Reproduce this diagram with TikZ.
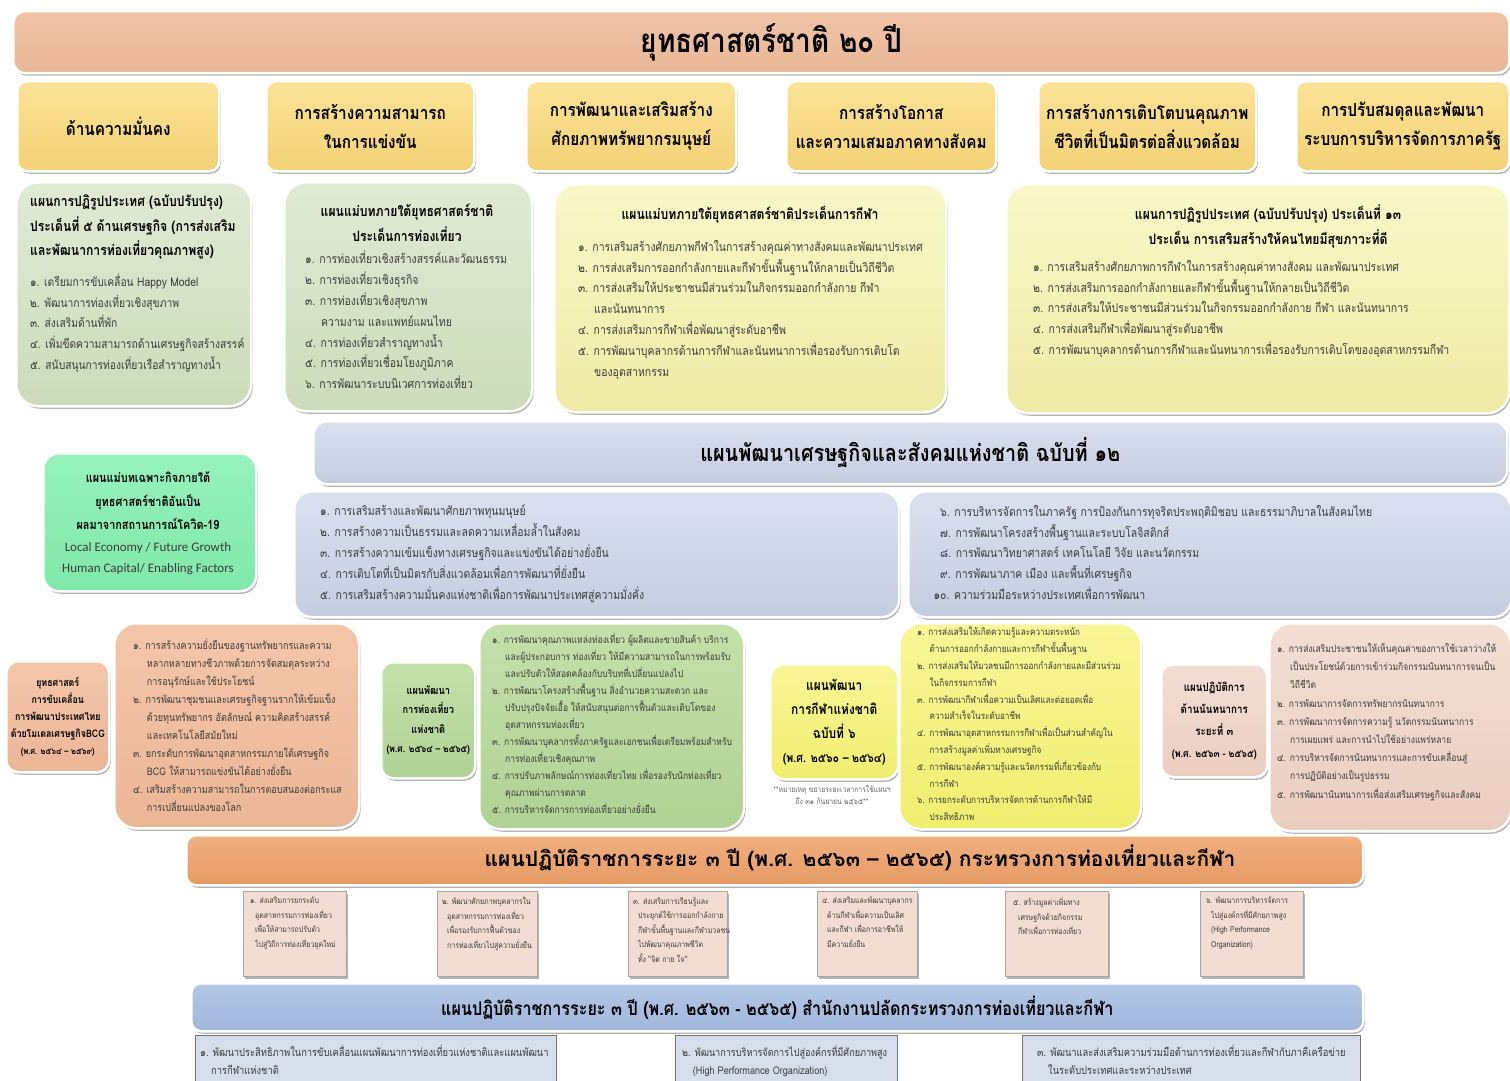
\documentclass[tikz,border=0pt]{standalone}
\usepackage{fontspec}
\setmainfont[Script=Thai]{Loma}
\newfontfamily\thc[Script=Thai,FakeStretch=0.85]{Loma}
\newfontfamily\thw[Script=Thai]{Loma}
\newfontfamily\calf{Carlito}
\usetikzlibrary{shadows}
\definecolor{peach}{RGB}{240,196,168}
\definecolor{peachd}{RGB}{232,182,150}
\definecolor{hdy}{RGB}{250,226,150}
\definecolor{hdyd}{RGB}{243,210,118}
\definecolor{sage}{RGB}{224,234,212}
\definecolor{saged}{RGB}{204,220,186}
\definecolor{ly}{RGB}{249,247,200}
\definecolor{lyd}{RGB}{238,235,165}
\definecolor{mint}{RGB}{150,242,188}
\definecolor{mintd}{RGB}{128,232,170}
\definecolor{bg}{RGB}{218,224,238}
\definecolor{bgd}{RGB}{196,205,224}
\definecolor{salm}{RGB}{244,198,170}
\definecolor{salmd}{RGB}{236,182,150}
\definecolor{gr}{RGB}{196,224,170}
\definecolor{grd}{RGB}{176,210,148}
\definecolor{byel}{RGB}{248,246,150}
\definecolor{byeld}{RGB}{240,238,110}
\definecolor{pink}{RGB}{243,222,212}
\definecolor{pinkd}{RGB}{234,206,192}
\definecolor{orng}{RGB}{240,176,128}
\definecolor{orngd}{RGB}{230,154,100}
\definecolor{sq}{RGB}{243,221,211}
\definecolor{bban}{RGB}{180,200,230}
\definecolor{bband}{RGB}{160,182,218}
\definecolor{bbox}{RGB}{214,222,235}
\definecolor{txtg}{RGB}{60,60,60}
\begin{document}
\begin{tikzpicture}[x=1pt,y=-1pt,
  shd/.style={drop shadow={shadow xshift=1.5pt,shadow yshift=-2.5pt,opacity=0.45,fill=black!65}},
  rbox/.style={shd,draw=white,line width=2.5pt,rounded corners=#1,anchor=north west,inner sep=0pt},
  rbox/.default=22pt,
  lst/.style={anchor=north west,inner sep=0pt,align=left,text=txtg,font=\thc\fontsize{12.3}{20.8}\selectfont},
  slst/.style={anchor=north west,inner sep=0pt,align=left,text=txtg,font=\thc\fontsize{10.6}{18}\selectfont},
  ttl/.style={inner sep=0pt,align=center,font=\thc\bfseries\fontsize{14.3}{24.5}\selectfont},
  hdr/.style={rbox=10pt,top color=hdy,bottom color=hdyd,minimum height=90pt,align=center,font=\thc\bfseries\fontsize{18}{29}\selectfont},
  sqr/.style={shd,draw=black!35,line width=0.6pt,fill=sq,anchor=north west,inner sep=0pt,minimum height=85pt},
  sqt/.style={anchor=north west,inner sep=0pt,align=left,text=txtg,font=\thc\fontsize{8.2}{14.5}\selectfont},
  bbx/.style={draw=black!55,line width=0.6pt,fill=bbox,anchor=north west,inner sep=0pt,minimum height=50pt},
  bbt/.style={anchor=north west,inner sep=0pt,align=left,text=txtg,font=\thc\fontsize{11}{18}\selectfont}]
\useasboundingbox[fill=white] (0,0) rectangle (1510,1081);

% ---- title
\node[rbox=12pt,top color=peach,bottom color=peachd,minimum width=1496pt,minimum height=62pt,
  font=\thc\bfseries\fontsize{33}{36}\selectfont] (t20) at (12,10) {\hspace*{20pt}ยุทธศาสตร์ชาติ ๒๐ ปี};

% ---- six strategies
\node[hdr,minimum width=202pt] (h1) at (16,80) {ด้านความมั่นคง};
\node[hdr,minimum width=208pt] (h2) at (265,80) {การสร้างความสามารถ\\ในการแข่งขัน};
\node[hdr,minimum width=210pt] (h3) at (525,80) {การพัฒนาและเสริมสร้าง\\ศักยภาพทรัพยากรมนุษย์};
\node[hdr,minimum width=210pt] (h4) at (785,80) {การสร้างโอกาส\\และความเสมอภาคทางสังคม};
\node[hdr,minimum width=218pt] (h5) at (1037,80) {การสร้างการเติบโตบนคุณภาพ\\ชีวิตที่เป็นมิตรต่อสิ่งแวดล้อม};
\node[hdr,minimum width=213pt] (h6) at (1295,80) {การปรับสมดุลและพัฒนา\\ระบบการบริหารจัดการภาครัฐ};

% ---- plan boxes row
\node[rbox,top color=sage,bottom color=saged,minimum width=235pt,minimum height=224pt] (pa) at (15,181) {};
\node[ttl,anchor=north west,align=left] (pat) at (30,195) {แผนการปฏิรูปประเทศ (ฉบับปรับปรุง)\\ประเด็นที่ ๕ ด้านเศรษฐกิจ (การส่งเสริม\\และพัฒนาการท่องเที่ยวคุณภาพสูง)};
\node[lst,font=\thc\fontsize{12.1}{20.6}\selectfont] (pal) at (30,274) {๑. เตรียมการขับเคลื่อน Happy Model\\๒. พัฒนาการท่องเที่ยวเชิงสุขภาพ\\๓. ส่งเสริมด้านที่พัก\\๔. เพิ่มขีดความสามารถด้านเศรษฐกิจสร้างสรรค์\\๕. สนับสนุนการท่องเที่ยวเรือสำราญทางน้ำ};

\node[rbox,top color=sage,bottom color=saged,minimum width=248pt,minimum height=229pt] (pb) at (283,181) {};
\node[ttl,anchor=north] (pbt) at (407,204) {แผนแม่บทภายใต้ยุทธศาสตร์ชาติ\\ประเด็นการท่องเที่ยว};
\node[lst] (pbl) at (305,251) {๑. การท่องเที่ยวเชิงสร้างสรรค์และวัฒนธรรม\\๒. การท่องเที่ยวเชิงธุรกิจ\\๓. การท่องเที่ยวเชิงสุขภาพ\\\hspace*{1.3em}ความงาม และแพทย์แผนไทย\\๔. การท่องเที่ยวสำราญทางน้ำ\\๕. การท่องเที่ยวเชื่อมโยงภูมิภาค\\๖. การพัฒนาระบบนิเวศการท่องเที่ยว};

\node[rbox,top color=ly,bottom color=lyd,minimum width=392pt,minimum height=228pt] (pc) at (553,183) {};
\node[ttl,anchor=north] (pct) at (750,206) {แผนแม่บทภายใต้ยุทธศาสตร์ชาติประเด็นการกีฬา};
\node[lst] (pcl) at (578,240) {๑. การเสริมสร้างศักยภาพกีฬาในการสร้างคุณค่าทางสังคมและพัฒนาประเทศ\\๒. การส่งเสริมการออกกำลังกายและกีฬาขั้นพื้นฐานให้กลายเป็นวิถีชีวิต\\๓. การส่งเสริมให้ประชาชนมีส่วนร่วมในกิจกรรมออกกำลังกาย กีฬา\\\hspace*{1.3em}และนันทนาการ\\๔. การส่งเสริมการกีฬาเพื่อพัฒนาสู่ระดับอาชีพ\\๕. การพัฒนาบุคลากรด้านการกีฬาและนันทนาการเพื่อรองรับการเติบโต\\\hspace*{1.3em}ของอุตสาหกรรม};

\node[rbox,top color=ly,bottom color=lyd,minimum width=503pt,minimum height=229pt] (pd) at (1005,183) {};
\node[ttl,anchor=north] (pdt) at (1268,205) {แผนการปฏิรูปประเทศ (ฉบับปรับปรุง) ประเด็นที่ ๑๓\\ประเด็น การเสริมสร้างให้คนไทยมีสุขภาวะที่ดี};
\node[lst] (pdl) at (1033,260) {๑. การเสริมสร้างศักยภาพการกีฬาในการสร้างคุณค่าทางสังคม และพัฒนาประเทศ\\๒. การส่งเสริมการออกกำลังกายและกีฬาขั้นพื้นฐานให้กลายเป็นวิถีชีวิต\\๓. การส่งเสริมให้ประชาชนมีส่วนร่วมในกิจกรรมออกกำลังกาย กีฬา และนันทนาการ\\๔. การส่งเสริมกีฬาเพื่อพัฒนาสู่ระดับอาชีพ\\๕. การพัฒนาบุคลากรด้านการกีฬาและนันทนาการเพื่อรองรับการเติบโตของอุตสาหกรรมกีฬา};

% ---- covid box
\node[rbox=16pt,top color=mint,bottom color=mintd,minimum width=213pt,minimum height=138pt] (cv) at (42,452) {};
\node[inner sep=0pt,align=center,anchor=north,font=\thc\fontsize{12.8}{23.5}\selectfont] (cvt) at (148,472)
 {\bfseries แผนแม่บทเฉพาะกิจภายใต้\\\bfseries ยุทธศาสตร์ชาติอันเป็น\\\bfseries ผลมาจากสถานการณ์โควิด-19\\[-2pt]
  {\calf\fontsize{13}{21}\selectfont\color{txtg}Local Economy / Future Growth}\\[-2pt]
  {\calf\fontsize{13}{21}\selectfont\color{txtg}Human Capital/ Enabling Factors}};

% ---- national plan 12
\node[rbox=14pt,top color=bg,bottom color=bgd,minimum width=1194pt,minimum height=63pt,
  font=\thc\bfseries\fontsize{23.4}{26}\selectfont] (np) at (312,420) {แผนพัฒนาเศรษฐกิจและสังคมแห่งชาติ ฉบับที่ ๑๒};
\node[rbox=18pt,top color=bg,bottom color=bgd,minimum width=605pt,minimum height=126pt] (np1) at (293,490) {};
\node[lst] (np1l) at (320,505) {๑. การเสริมสร้างและพัฒนาศักยภาพทุนมนุษย์\\๒. การสร้างความเป็นธรรมและลดความเหลื่อมล้ำในสังคม\\๓. การสร้างความเข้มแข็งทางเศรษฐกิจและแข่งขันได้อย่างยั่งยืน\\๔. การเติบโตที่เป็นมิตรกับสิ่งแวดล้อมเพื่อการพัฒนาที่ยั่งยืน\\๕. การเสริมสร้างความมั่นคงแห่งชาติเพื่อการพัฒนาประเทศสู่ความมั่งคั่ง};
\node[rbox=18pt,top color=bg,bottom color=bgd,minimum width=603pt,minimum height=126pt] (np2) at (907,490) {};
\node[lst] (np2l) at (940,505) {๖. การบริหารจัดการในภาครัฐ การป้องกันการทุจริตประพฤติมิชอบ และธรรมาภิบาลในสังคมไทย\\๗. การพัฒนาโครงสร้างพื้นฐานและระบบโลจิสติกส์\\๘. การพัฒนาวิทยาศาสตร์ เทคโนโลยี วิจัย และนวัตกรรม\\๙. การพัฒนาภาค เมือง และพื้นที่เศรษฐกิจ\\\makebox[0pt][r]{๑}๐. ความร่วมมือระหว่างประเทศเพื่อการพัฒนา};

% ---- row of sector plans
\node[rbox=12pt,top color=salm,bottom color=salmd,minimum width=103pt,minimum height=111pt,align=center,
  font=\thc\bfseries\fontsize{10.4}{17}\selectfont] (bcg) at (5,660) {ยุทธศาสตร์\\การขับเคลื่อน\\การพัฒนาประเทศไทย\\ด้วยโมเดลเศรษฐกิจBCG\\{\fontsize{8.9}{17}\selectfont(พ.ศ. ๒๕๖๔ – ๒๕๖๙)}};
\node[rbox,top color=salm,bottom color=salmd,minimum width=245pt,minimum height=205pt] (bcgb) at (113,622) {};
\node[slst] (bcgl) at (133,638) {๑. การสร้างความยั่งยืนของฐานทรัพยากรและความ\\\hspace*{1.3em}หลากหลายทางชีวภาพด้วยการจัดสมดุลระหว่าง\\\hspace*{1.3em}การอนุรักษ์และใช้ประโยชน์\\๒. การพัฒนาชุมชนและเศรษฐกิจฐานรากให้เข้มแข็ง\\\hspace*{1.3em}ด้วยทุนทรัพยากร อัตลักษณ์ ความคิดสร้างสรรค์\\\hspace*{1.3em}และเทคโนโลยีสมัยใหม่\\๓. ยกระดับการพัฒนาอุตสาหกรรมภายใต้เศรษฐกิจ\\\hspace*{1.3em}BCG ให้สามารถแข่งขันได้อย่างยั่งยืน\\๔. เสริมสร้างความสามารถในการตอบสนองต่อกระแส\\\hspace*{1.3em}การเปลี่ยนแปลงของโลก};

\node[rbox=12pt,top color=gr,bottom color=grd,minimum width=94pt,minimum height=116pt,align=center,
  font=\thc\bfseries\fontsize{10.8}{19.5}\selectfont] (tour) at (380,661) {แผนพัฒนา\\การท่องเที่ยว\\แห่งชาติ\\{\fontsize{10}{19}\selectfont(พ.ศ. ๒๕๖๔ – ๒๕๖๕)}};
\node[rbox,top color=gr,bottom color=grd,minimum width=265pt,minimum height=206pt] (tourb) at (478,622) {};
\node[slst,font=\thc\fontsize{10}{17}\selectfont] (tourl) at (492,633) {๑. การพัฒนาคุณภาพแหล่งท่องเที่ยว ผู้ผลิตและขายสินค้า บริการ\\\hspace*{1.3em}และผู้ประกอบการ ท่องเที่ยว ให้มีความสามารถในการพร้อมรับ\\\hspace*{1.3em}และปรับตัวให้สอดคล้องกับบริบทที่เปลี่ยนแปลงไป\\๒. การพัฒนาโครงสร้างพื้นฐาน สิ่งอำนวยความสะดวก และ\\\hspace*{1.3em}ปรับปรุงปัจจัยเอื้อ ให้สนับสนุนต่อการฟื้นตัวและเติบโตของ\\\hspace*{1.3em}อุตสาหกรรมท่องเที่ยว\\๓. การพัฒนาบุคลากรทั้งภาครัฐและเอกชนเพื่อเตรียมพร้อมสำหรับ\\\hspace*{1.3em}การท่องเที่ยวเชิงคุณภาพ\\๔. การปรับภาพลักษณ์การท่องเที่ยวไทย เพื่อรองรับนักท่องเที่ยว\\\hspace*{1.3em}คุณภาพผ่านการตลาด\\๕. การบริหารจัดการการท่องเที่ยวอย่างยั่งยืน};

\node[rbox=14pt,top color=byel,bottom color=byeld,minimum width=128pt,minimum height=115pt,align=center,
  font=\thc\bfseries\fontsize{14}{24}\selectfont] (sport) at (769,663) {แผนพัฒนา\\การกีฬาแห่งชาติ\\ฉบับที่ ๖\\{\fontsize{12.5}{23}\selectfont(พ.ศ. ๒๕๖๐ – ๒๕๖๔)}};
\node[inner sep=0pt,align=center,anchor=north,text=black!60,font=\thc\fontsize{8}{12}\selectfont] (note) at (832,785) {**หมายเหตุ ขยายระยะเวลาการใช้แผนฯ\\ถึง ๓๑ กันยายน ๒๕๖๕**};
\node[rbox,top color=byel,bottom color=byeld,minimum width=242pt,minimum height=206pt] (sportb) at (898,622) {};
\node[slst,font=\thc\fontsize{9.6}{16.8}\selectfont] (sportl) at (917,627) {๑. การส่งเสริมให้เกิดความรู้และความตระหนัก\\\hspace*{1.3em}ด้านการออกกำลังกายและการกีฬาขั้นพื้นฐาน\\๒. การส่งเสริมให้มวลชนมีการออกกำลังกายและมีส่วนร่วม\\\hspace*{1.3em}ในกิจกรรมการกีฬา\\๓. การพัฒนากีฬาเพื่อความเป็นเลิศและต่อยอดเพื่อ\\\hspace*{1.3em}ความสำเร็จในระดับอาชีพ\\๔. การพัฒนาอุตสาหกรรมการกีฬาเพื่อเป็นส่วนสำคัญใน\\\hspace*{1.3em}การสร้างมูลค่าเพิ่มทางเศรษฐกิจ\\๕. การพัฒนาองค์ความรู้และนวัตกรรมที่เกี่ยวข้องกับ\\\hspace*{1.3em}การกีฬา\\๖. การยกระดับการบริหารจัดการด้านการกีฬาให้มี\\\hspace*{1.3em}ประสิทธิภาพ};

\node[rbox=12pt,top color=pink,bottom color=pinkd,minimum width=106pt,minimum height=113pt,align=center,
  font=\thc\bfseries\fontsize{11.5}{22}\selectfont] (rec) at (1160,663) {แผนปฏิบัติการ\\ด้านนันทนาการ\\ระยะที่ ๓\\{\fontsize{10.5}{20}\selectfont(พ.ศ. ๒๕๖๓ - ๒๕๖๕)}};
\node[rbox,top color=pink,bottom color=pinkd,minimum width=242pt,minimum height=208pt] (recb) at (1268,622) {};
\node[slst,font=\thc\fontsize{10}{18.2}\selectfont] (recl) at (1277,643) {๑. การส่งเสริมประชาชนให้เห็นคุณค่าของการใช้เวลาว่างให้\\\hspace*{1.3em}เป็นประโยชน์ด้วยการเข้าร่วมกิจกรรมนันทนาการจนเป็น\\\hspace*{1.3em}วิถีชีวิต\\๒. การพัฒนาการจัดการทรัพยากรนันทนาการ\\๓. การพัฒนาการจัดการความรู้ นวัตกรรมนันทนาการ\\\hspace*{1.3em}การเผยแพร่ และการนำไปใช้อย่างแพร่หลาย\\๔. การบริหารจัดการนันทนาการและการขับเคลื่อนสู่\\\hspace*{1.3em}การปฏิบัติอย่างเป็นรูปธรรม\\๕. การพัฒนานันทนาการเพื่อส่งเสริมเศรษฐกิจและสังคม};

% ---- ministry plan
\node[rbox=10pt,top color=orng,bottom color=orngd,minimum width=1177pt,minimum height=50pt] (mp) at (185,834) {};
\node[inner sep=0pt,font=\thw\bfseries\fontsize{21}{24}\selectfont] (mpt) at (860,858) {แผนปฏิบัติราชการระยะ ๓ ปี (พ.ศ. ๒๕๖๓ – ๒๕๖๕) กระทรวงการท่องเที่ยวและกีฬา};

\node[sqr,minimum width=103pt] (s1) at (243,891) {};
\node[sqt] (s1t) at (250,897) {๑. ส่งเสริมการยกระดับ\\\hspace*{0.6em}อุตสาหกรรมการท่องเที่ยว\\\hspace*{0.6em}เพื่อให้สามารถปรับตัว\\\hspace*{0.6em}ไปสู่วิถีการท่องเที่ยวยุคใหม่};
\node[sqr,minimum width=100pt] (s2) at (437,891) {};
\node[sqt] (s2t) at (442,897) {๒. พัฒนาศักยภาพบุคลากรใน\\\hspace*{0.6em}อุตสาหกรรมการท่องเที่ยว\\\hspace*{0.6em}เพื่อรองรับการฟื้นตัวของ\\\hspace*{0.6em}การท่องเที่ยวไปสู่ความยั่งยืน};
\node[sqr,minimum width=99pt] (s3) at (628,891) {};
\node[sqt] (s3t) at (633,897) {๓. ส่งเสริมการเรียนรู้และ\\\hspace*{0.6em}ประยุกต์ใช้การออกกำลังกาย\\\hspace*{0.6em}กีฬาขั้นพื้นฐานและกีฬามวลชน\\\hspace*{0.6em}ไปพัฒนาคุณภาพชีวิต\\\hspace*{0.6em}ทั้ง “จิต กาย ใจ”};
\node[sqr,minimum width=100pt] (s4) at (817,891) {};
\node[sqt] (s4t) at (822,897) {๔. ส่งเสริมและพัฒนาบุคลากร\\\hspace*{0.6em}ด้านกีฬาเพื่อความเป็นเลิศ\\\hspace*{0.6em}และกีฬา เพื่อการอาชีพให้\\\hspace*{0.6em}มีความยั่งยืน};
\node[sqr,minimum width=103pt] (s5) at (1005,891) {};
\node[sqt] (s5t) at (1013,897) {๕. สร้างมูลค่าเพิ่มทาง\\\hspace*{0.6em}เศรษฐกิจด้วยกิจกรรม\\\hspace*{0.6em}กีฬาเพื่อการท่องเที่ยว};
\node[sqr,minimum width=103pt] (s6) at (1200,891) {};
\node[sqt] (s6t) at (1206,897) {๖. พัฒนาการบริหารจัดการ\\\hspace*{0.6em}ไปสู่องค์กรที่มีศักยภาพสูง\\\hspace*{0.6em}(High Performance\\\hspace*{0.6em}Organization)};

% ---- office plan
\node[rbox=10pt,top color=bban,bottom color=bband,minimum width=1172pt,minimum height=48pt,
  font=\thc\bfseries\fontsize{19}{22}\selectfont] (op) at (190,982) {แผนปฏิบัติราชการระยะ ๓ ปี (พ.ศ. ๒๕๖๓ - ๒๕๖๕) สำนักงานปลัดกระทรวงการท่องเที่ยวและกีฬา};
\node[bbx,minimum width=361pt] (o1) at (195,1035) {};
\node[bbt] (o1t) at (200,1045) {๑. พัฒนาประสิทธิภาพในการขับเคลื่อนแผนพัฒนาการท่องเที่ยวแห่งชาติและแผนพัฒนา\\\hspace*{1em}การกีฬาแห่งชาติ};
\node[bbx,minimum width=222pt] (o2) at (675,1035) {};
\node[bbt,font=\thc\fontsize{10.7}{18}\selectfont] (o2t) at (682,1045) {๒. พัฒนาการบริหารจัดการไปสู่องค์กรที่มีศักยภาพสูง\\\hspace*{1em}(High Performance Organization)};
\node[bbx,minimum width=338pt] (o3) at (1022,1035) {};
\node[bbt] (o3t) at (1037,1045) {๓. พัฒนาและส่งเสริมความร่วมมือด้านการท่องเที่ยวและกีฬากับภาคีเครือข่าย\\\hspace*{1em}ในระดับประเทศและระหว่างประเทศ};
\end{tikzpicture}
\end{document}
